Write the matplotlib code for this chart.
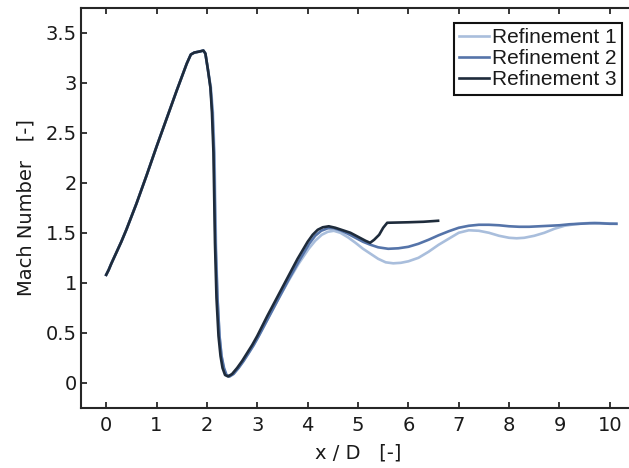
"""Mach number along the jet axis for three mesh refinements."""

import matplotlib

matplotlib.use("Agg")
import matplotlib.pyplot as plt


# Refinement 1 (coarse)
x_ref1 = [0.0, 0.05, 0.1, 0.2, 0.3, 0.4, 0.6, 0.8, 1.0, 1.2, 1.4, 1.6, 1.68, 1.75,
          1.85, 1.93, 1.97, 2.02, 2.08, 2.12, 2.15, 2.18, 2.21, 2.25, 2.29, 2.33,
          2.38, 2.44, 2.52, 2.62, 2.72, 2.82, 2.92, 3.02, 3.22, 3.42, 3.62, 3.82,
          4.02, 4.15, 4.28, 4.4, 4.52, 4.65, 4.8, 4.95, 5.1, 5.25, 5.4, 5.55, 5.7,
          5.85, 6.0, 6.2, 6.4, 6.6, 6.8, 7.0, 7.2, 7.4, 7.6, 7.8, 8.0, 8.15, 8.3,
          8.5, 8.7, 8.9, 9.1, 9.3, 9.5, 9.7, 9.9, 10.13]
mach_ref1 = [1.08, 1.13, 1.19, 1.30, 1.41, 1.53, 1.79, 2.07, 2.36, 2.64, 2.92, 3.19,
             3.28, 3.30, 3.31, 3.32, 3.29, 3.13, 2.95, 2.70, 2.30, 1.40, 0.85, 0.47,
             0.27, 0.15, 0.08, 0.065, 0.09, 0.15, 0.22, 0.29, 0.37, 0.46, 0.65, 0.84,
             1.02, 1.19, 1.34, 1.42, 1.48, 1.51, 1.52, 1.50, 1.455, 1.40, 1.34, 1.29,
             1.24, 1.205, 1.195, 1.20, 1.215, 1.25, 1.31, 1.38, 1.44, 1.50, 1.525,
             1.52, 1.50, 1.47, 1.45, 1.445, 1.45, 1.47, 1.50, 1.54, 1.57, 1.585,
             1.595, 1.60, 1.595, 1.59]

# Refinement 2
x_ref2 = [0.0, 0.05, 0.1, 0.2, 0.3, 0.4, 0.6, 0.8, 1.0, 1.2, 1.4, 1.6, 1.68, 1.75,
          1.85, 1.93, 1.97, 2.02, 2.07, 2.11, 2.14, 2.17, 2.21, 2.25, 2.29, 2.34,
          2.39, 2.45, 2.53, 2.63, 2.73, 2.83, 2.93, 3.03, 3.23, 3.43, 3.63, 3.83,
          4.03, 4.15, 4.27, 4.4, 4.52, 4.65, 4.8, 4.95, 5.1, 5.25, 5.4, 5.6, 5.8,
          6.0, 6.2, 6.4, 6.6, 6.8, 7.0, 7.2, 7.4, 7.6, 7.8, 8.0, 8.2, 8.4, 8.6,
          8.8, 9.0, 9.2, 9.4, 9.6, 9.8, 10.0, 10.13]
mach_ref2 = [1.08, 1.13, 1.19, 1.30, 1.41, 1.53, 1.79, 2.07, 2.36, 2.64, 2.92, 3.19,
             3.28, 3.30, 3.31, 3.32, 3.29, 3.13, 2.95, 2.70, 2.30, 1.40, 0.85, 0.47,
             0.27, 0.15, 0.08, 0.065, 0.09, 0.15, 0.22, 0.30, 0.38, 0.47, 0.66, 0.85,
             1.04, 1.22, 1.39, 1.47, 1.52, 1.545, 1.545, 1.525, 1.49, 1.45, 1.41,
             1.38, 1.355, 1.34, 1.345, 1.36, 1.39, 1.43, 1.475, 1.515, 1.55, 1.57,
             1.58, 1.58, 1.575, 1.565, 1.56, 1.56, 1.565, 1.57, 1.575, 1.585, 1.59,
             1.595, 1.595, 1.59, 1.59]

# Refinement 3 (fine, shorter domain)
x_ref3 = [0.0, 0.05, 0.1, 0.2, 0.3, 0.4, 0.6, 0.8, 1.0, 1.2, 1.4, 1.6, 1.68, 1.75,
          1.85, 1.93, 1.97, 2.02, 2.07, 2.10, 2.13, 2.16, 2.19, 2.23, 2.27, 2.31,
          2.36, 2.42, 2.5, 2.6, 2.7, 2.8, 2.9, 3.0, 3.2, 3.4, 3.6, 3.8, 4.0, 4.1,
          4.2, 4.3, 4.42, 4.55, 4.7, 4.85, 5.0, 5.15, 5.24, 5.32, 5.42, 5.5, 5.58,
          6.0, 6.3, 6.59]
mach_ref3 = [1.08, 1.13, 1.19, 1.30, 1.41, 1.53, 1.79, 2.07, 2.36, 2.64, 2.92, 3.19,
             3.28, 3.30, 3.31, 3.32, 3.29, 3.13, 2.95, 2.70, 2.30, 1.40, 0.85, 0.47,
             0.27, 0.15, 0.08, 0.065, 0.09, 0.15, 0.22, 0.30, 0.38, 0.47, 0.67, 0.86,
             1.05, 1.24, 1.41, 1.48, 1.53, 1.555, 1.565, 1.55, 1.525, 1.50, 1.46,
             1.42, 1.40, 1.43, 1.48, 1.55, 1.60, 1.605, 1.61, 1.62]

series = [
    ("Refinement 1", x_ref1, mach_ref1, "#a9bedc"),
    ("Refinement 2", x_ref2, mach_ref2, "#5574a9"),
    ("Refinement 3", x_ref3, mach_ref3, "#1e2b3b"),
]

x_ticks = list(range(0, 11))
y_ticks = [0, 0.5, 1, 1.5, 2, 2.5, 3, 3.5]
y_tick_labels = ["0", "0.5", "1", "1.5", "2", "2.5", "3", "3.5"]

plt.rcParams["font.family"] = ["DejaVu Sans"]
AX_COLOR = "#262626"
TXT_COLOR = "#1a1a1a"

fig = plt.figure(figsize=(6.29, 4.68), dpi=100)
# right edge of the box lies just outside the picture, as in the original crop
ax = fig.add_axes([81 / 629, 60 / 468, 554 / 629, 400.5 / 468])

for label, xs, ys, color in series:
    ax.plot(xs, ys, color=color, lw=1.9, label=label, solid_joinstyle="round")

ax.set_xlim(-0.5, 10.5)
ax.set_ylim(-0.25, 3.75)
ax.set_xticks(x_ticks)
ax.set_yticks(y_ticks)
ax.set_yticklabels(y_tick_labels)

for spine in ax.spines.values():
    spine.set_color(AX_COLOR)
    spine.set_linewidth(1.5)
ax.tick_params(direction="in", length=4, width=1.3, color=AX_COLOR,
               labelsize=14, labelcolor=TXT_COLOR, top=True, right=True)
ax.tick_params(axis="x", pad=6)
ax.tick_params(axis="y", pad=3)

ax.set_xlabel("x / D   [-]", fontsize=14, color=TXT_COLOR, labelpad=6)
ax.set_ylabel("Mach Number   [-]", fontsize=14, color=TXT_COLOR, labelpad=7)

leg = ax.legend(loc="upper right", bbox_to_anchor=(622 / 629, 1 - 23 / 468),
                bbox_transform=fig.transFigure, borderaxespad=0,
                prop={"family": "Liberation Sans", "size": 15},
                handlelength=1.45, handletextpad=0.15, labelspacing=0.1,
                borderpad=0.25, fancybox=False, framealpha=1)
leg.get_frame().set_edgecolor("#111111")
leg.get_frame().set_linewidth(1.5)
for text in leg.get_texts():
    text.set_color(TXT_COLOR)

fig.savefig("out.png", dpi=100, facecolor="white")
